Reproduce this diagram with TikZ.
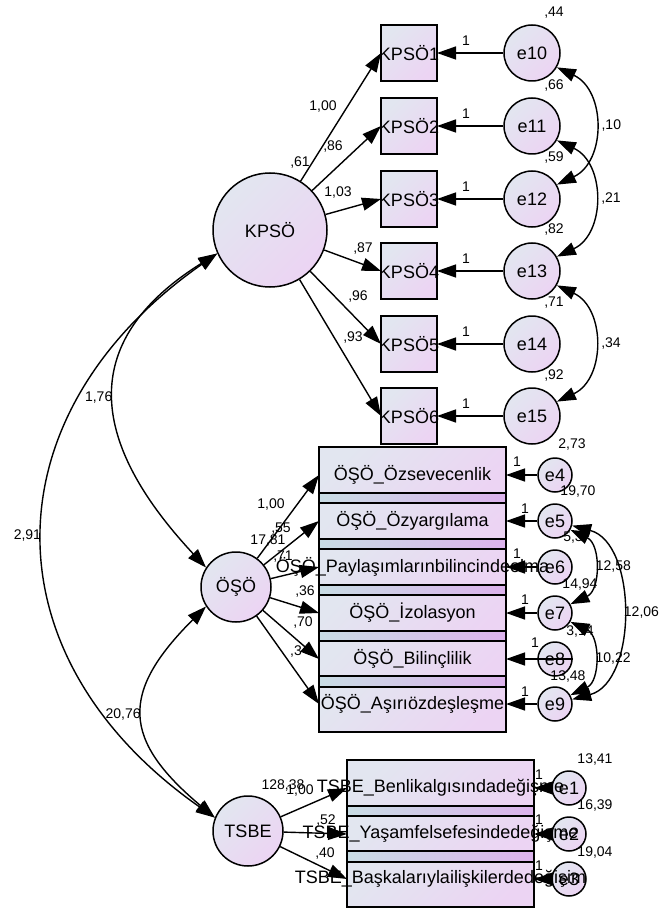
\documentclass[tikz,border=0pt]{standalone}
\usepackage{fontspec}
\setmainfont{Liberation Sans}
\usetikzlibrary{arrows.meta}

\definecolor{fillA}{RGB}{226,230,240}
\definecolor{fillB}{RGB}{236,212,243}
\definecolor{bandA}{RGB}{200,220,228}
\definecolor{bandB}{RGB}{220,178,236}

\newcommand{\wide}[1]{\makebox[0pt]{#1}}

\tikzset{
  latent/.style={circle, draw, line width=0.75pt, top color=fillA, bottom color=fillB, shading angle=45, inner sep=0pt, font=\fontsize{9}{10}\selectfont},
  bigfactor/.style={latent, minimum size=57pt},
  factor/.style={latent, minimum size=35pt},
  errbig/.style={latent, minimum size=28pt},
  errsmall/.style={latent, minimum size=17pt},
  obs/.style={rectangle, draw, line width=0.75pt, top color=fillA, bottom color=fillB, shading angle=45, inner sep=0pt, outer sep=0pt, minimum width=28pt, minimum height=28pt, font=\fontsize{9}{10}\selectfont},
  obswide/.style={obs, minimum width=93.5pt},
  band/.style={draw, line width=0.75pt, left color=bandA, right color=bandB},
  num/.style={inner sep=1pt, font=\fontsize{7}{8}\selectfont},
  load/.style={line width=0.7pt, -{Triangle[length=9.5pt,width=6.5pt]}},
  cov/.style={line width=0.7pt, {Triangle[length=9.5pt,width=6.5pt]}-{Triangle[length=9.5pt,width=6.5pt]}},
}

\begin{document}
\begin{tikzpicture}[x=0.5pt,y=0.5pt]
    \useasboundingbox (0,0) rectangle (658,-909);

    % error terms
    \node[errbig] (e10) at (532,-53) {e10};
    \node[errbig] (e11) at (532,-126) {e11};
    \node[errbig] (e12) at (532,-199) {e12};
    \node[errbig] (e13) at (532,-271) {e13};
    \node[errbig] (e14) at (532,-344) {e14};
    \node[errbig] (e15) at (532,-416) {e15};

    \node[errsmall] (e4) at (555,-475) {e4};
    \node[errsmall] (e5) at (555,-521) {e5};
    \node[errsmall] (e6) at (555,-567) {e6};
    \node[errsmall] (e7) at (555,-613) {e7};
    \node[errsmall] (e8) at (555,-659) {e8};
    \node[errsmall] (e9) at (555,-704) {e9};

    \node[errsmall] (e1) at (569,-788) {e1};
    \node[errsmall] (e2) at (569,-834) {e2};
    \node[errsmall] (e3) at (569,-879) {e3};

    % latent variables
    \node[bigfactor] (kpso) at (270,-230) {KPSÖ};
    \node[factor] (oso) at (236,-587) {ÖŞÖ};
    \node[factor] (tsbe) at (248,-831) {TSBE};

    % KPSÖ items
    \node[obs] (kpso1) at (409,-53) {\wide{KPSÖ1}};
    \node[obs] (kpso2) at (409,-126) {\wide{KPSÖ2}};
    \node[obs] (kpso3) at (409,-199) {\wide{KPSÖ3}};
    \node[obs] (kpso4) at (409,-271) {\wide{KPSÖ4}};
    \node[obs] (kpso5) at (409,-344) {\wide{KPSÖ5}};
    \node[obs] (kpso6) at (409,-416) {\wide{KPSÖ6}};

    % ÖŞÖ items
    \node[obswide] (oso1) at (412.5,-475) {\wide{ÖŞÖ\_Özsevecenlik}};
    \node[obswide] (oso2) at (412.5,-521) {\wide{ÖŞÖ\_Özyargılama}};
    \node[obswide] (oso3) at (412.5,-567) {\wide{ÖŞÖ\_Paylaşımlarınbilincindeolma}};
    \node[obswide] (oso4) at (412.5,-613) {\wide{ÖŞÖ\_İzolasyon}};
    \node[obswide] (oso5) at (412.5,-659) {\wide{ÖŞÖ\_Bilinçlilik}};
    \node[obswide] (oso6) at (412.5,-704) {\wide{ÖŞÖ\_Aşırıözdeşleşme}};
    \shade[band] (oso2.north west) rectangle (oso1.south east);
    \shade[band] (oso3.north west) rectangle (oso2.south east);
    \shade[band] (oso4.north west) rectangle (oso3.south east);
    \shade[band] (oso5.north west) rectangle (oso4.south east);
    \shade[band] (oso6.north west) rectangle (oso5.south east);

    % TSBE items
    \node[obswide] (tsbe1) at (440.5,-788) {\wide{TSBE\_Benlikalgısındadeğişme}};
    \node[obswide] (tsbe2) at (440.5,-834) {\wide{TSBE\_Yaşamfelsefesindedeğişme}};
    \node[obswide] (tsbe3) at (440.5,-879) {\wide{TSBE\_Başkalarıylailişkilerdedeğişim}};
    \shade[band] (tsbe2.north west) rectangle (tsbe1.south east);
    \shade[band] (tsbe3.north west) rectangle (tsbe2.south east);

    % estimates
    \node[num] (v44) at (554,-13) {,44};
    \node[num] (v66) at (554,-86) {,66};
    \node[num] (v59) at (554,-158) {,59};
    \node[num] (v82) at (554,-230) {,82};
    \node[num] (v71) at (554,-303) {,71};
    \node[num] (v92) at (554,-376) {,92};
    \node[num] (w10) at (466,-41) {1};
    \node[num] (w11) at (466,-114) {1};
    \node[num] (w12) at (466,-187) {1};
    \node[num] (w13) at (466,-259) {1};
    \node[num] (w14) at (466,-332) {1};
    \node[num] (w15) at (466,-404) {1};
    \node[num] (vkpso) at (300,-163) {,61};
    \node[num] (k1) at (323,-107) {1,00};
    \node[num] (k2) at (333,-147) {,86};
    \node[num] (k3) at (338,-193) {1,03};
    \node[num] (k4) at (363,-249) {,87};
    \node[num] (k5) at (358,-297) {,96};
    \node[num] (k6) at (353,-338) {,93};

    \node[num] (o1) at (271,-505) {1,00};
    \node[num] (o2) at (281,-529) {,55};
    \node[num] (voso) at (268,-541) {17,81};
    \node[num] (o3) at (283,-557) {,71};
    \node[num] (o4) at (305,-592) {,36};
    \node[num] (o5) at (303,-623) {,70};
    \node[num] (o6) at (296,-652) {,3};
    \node[num] (v4) at (572,-445) {2,73};
    \node[num] (v5) at (578,-492) {19,70};
    \node[num] (v6) at (573,-538) {5,3};
    \node[num] (v7) at (580,-585) {14,94};
    \node[num] (v8) at (580,-632) {3,14};
    \node[num] (v9) at (568,-677) {13,48};
    \node[num] (w4) at (517,-462) {1};
    \node[num] (w5) at (525,-509) {1};
    \node[num] (w6) at (517,-554) {1};
    \node[num] (w7) at (525,-600) {1};
    \node[num] (w8) at (535,-643) {1};
    \node[num] (w9) at (525,-692) {1};

    \node[num] (vtsbe) at (283,-785) {128,38};
    \node[num] (t1) at (300,-790) {1,00};
    \node[num] (t2) at (326,-820) {,52};
    \node[num] (t3) at (325,-853) {,40};
    \node[num] (v1) at (595,-759) {13,41};
    \node[num] (v2) at (595,-805) {16,39};
    \node[num] (v3) at (595,-852) {19,04};
    \node[num] (w1) at (539,-775) {1};
    \node[num] (w2) at (539,-820) {1};
    \node[num] (w3) at (539,-866) {1};

    % loadings
    \draw[load] (kpso) -- (kpso1.west);
    \draw[load] (kpso) -- (kpso2.west);
    \draw[load] (kpso) -- (kpso3.west);
    \draw[load] (kpso) -- (kpso4.west);
    \draw[load] (kpso) -- (kpso5.west);
    \draw[load] (kpso) -- (kpso6.west);

    \draw[load] (oso) -- (oso1.west);
    \draw[load] (oso) -- (oso2.west);
    \draw[load] (oso) -- (oso3.west);
    \draw[load] (oso) -- (oso4.west);
    \draw[load] (oso) -- (oso5.west);
    \draw[load] (oso) -- (oso6.west);

    \draw[load] (tsbe) -- (tsbe1.west);
    \draw[load] (tsbe) -- (tsbe2.west);
    \draw[load] (tsbe) -- (tsbe3.west);

    % errors
    \draw[load] (e10) -- (kpso1.east);
    \draw[load] (e11) -- (kpso2.east);
    \draw[load] (e12) -- (kpso3.east);
    \draw[load] (e13) -- (kpso4.east);
    \draw[load] (e14) -- (kpso5.east);
    \draw[load] (e15) -- (kpso6.east);

    \draw[load] (e4) -- (oso1.east);
    \draw[load] (e5) -- (oso2.east);
    \draw[load] (e6) -- (oso3.east);
    \draw[load] (e7) -- (oso4.east);
    \draw[load] (e8.east) -- (oso5.east);
    \draw[load] (e9) -- (oso6.east);

    \draw[load] (e1) -- (tsbe1.east);
    \draw[load] (e2) -- (tsbe2.east);
    \draw[load] (e3) -- (tsbe3.east);

    % covariances
    \draw[cov] (kpso.204) to[out=212,in=133,looseness=1.37] node[num,left] (c1) {1,76} (oso.147);
    \draw[cov] (kpso.204) to[out=215,in=145,looseness=1.27] node[num,left] (c2) {2,91} (tsbe.158);
    \draw[cov] (oso.213) to[out=225,in=140,looseness=1.47] node[num,left] (c3) {20,76} (tsbe.158);

    \draw[cov] (e10.-30) to[out=-25,in=25,looseness=1.19] node[num,right=2.5pt] (c4) {,10} (e12.30);
    \draw[cov] (e11.-30) to[out=-25,in=25,looseness=1.19] node[num,right=2.5pt] (c5) {,21} (e13.30);
    \draw[cov] (e13.-30) to[out=-25,in=25,looseness=1.19] node[num,right=2.5pt] (c6) {,34} (e15.30);

    \draw[cov] (e5.-30) to[out=-25,in=25,looseness=1.16] node[num,right] (c7) {12,58} (e7.30);
    \draw[cov] (e5.-15) to[out=-15,in=15,looseness=1] node[num,right] (c8) {12,06} (e9.15);
    \draw[cov] (e7.-30) to[out=-25,in=25,looseness=1.16] node[num,right] (c9) {10,22} (e9.30);
\end{tikzpicture}
\end{document}
